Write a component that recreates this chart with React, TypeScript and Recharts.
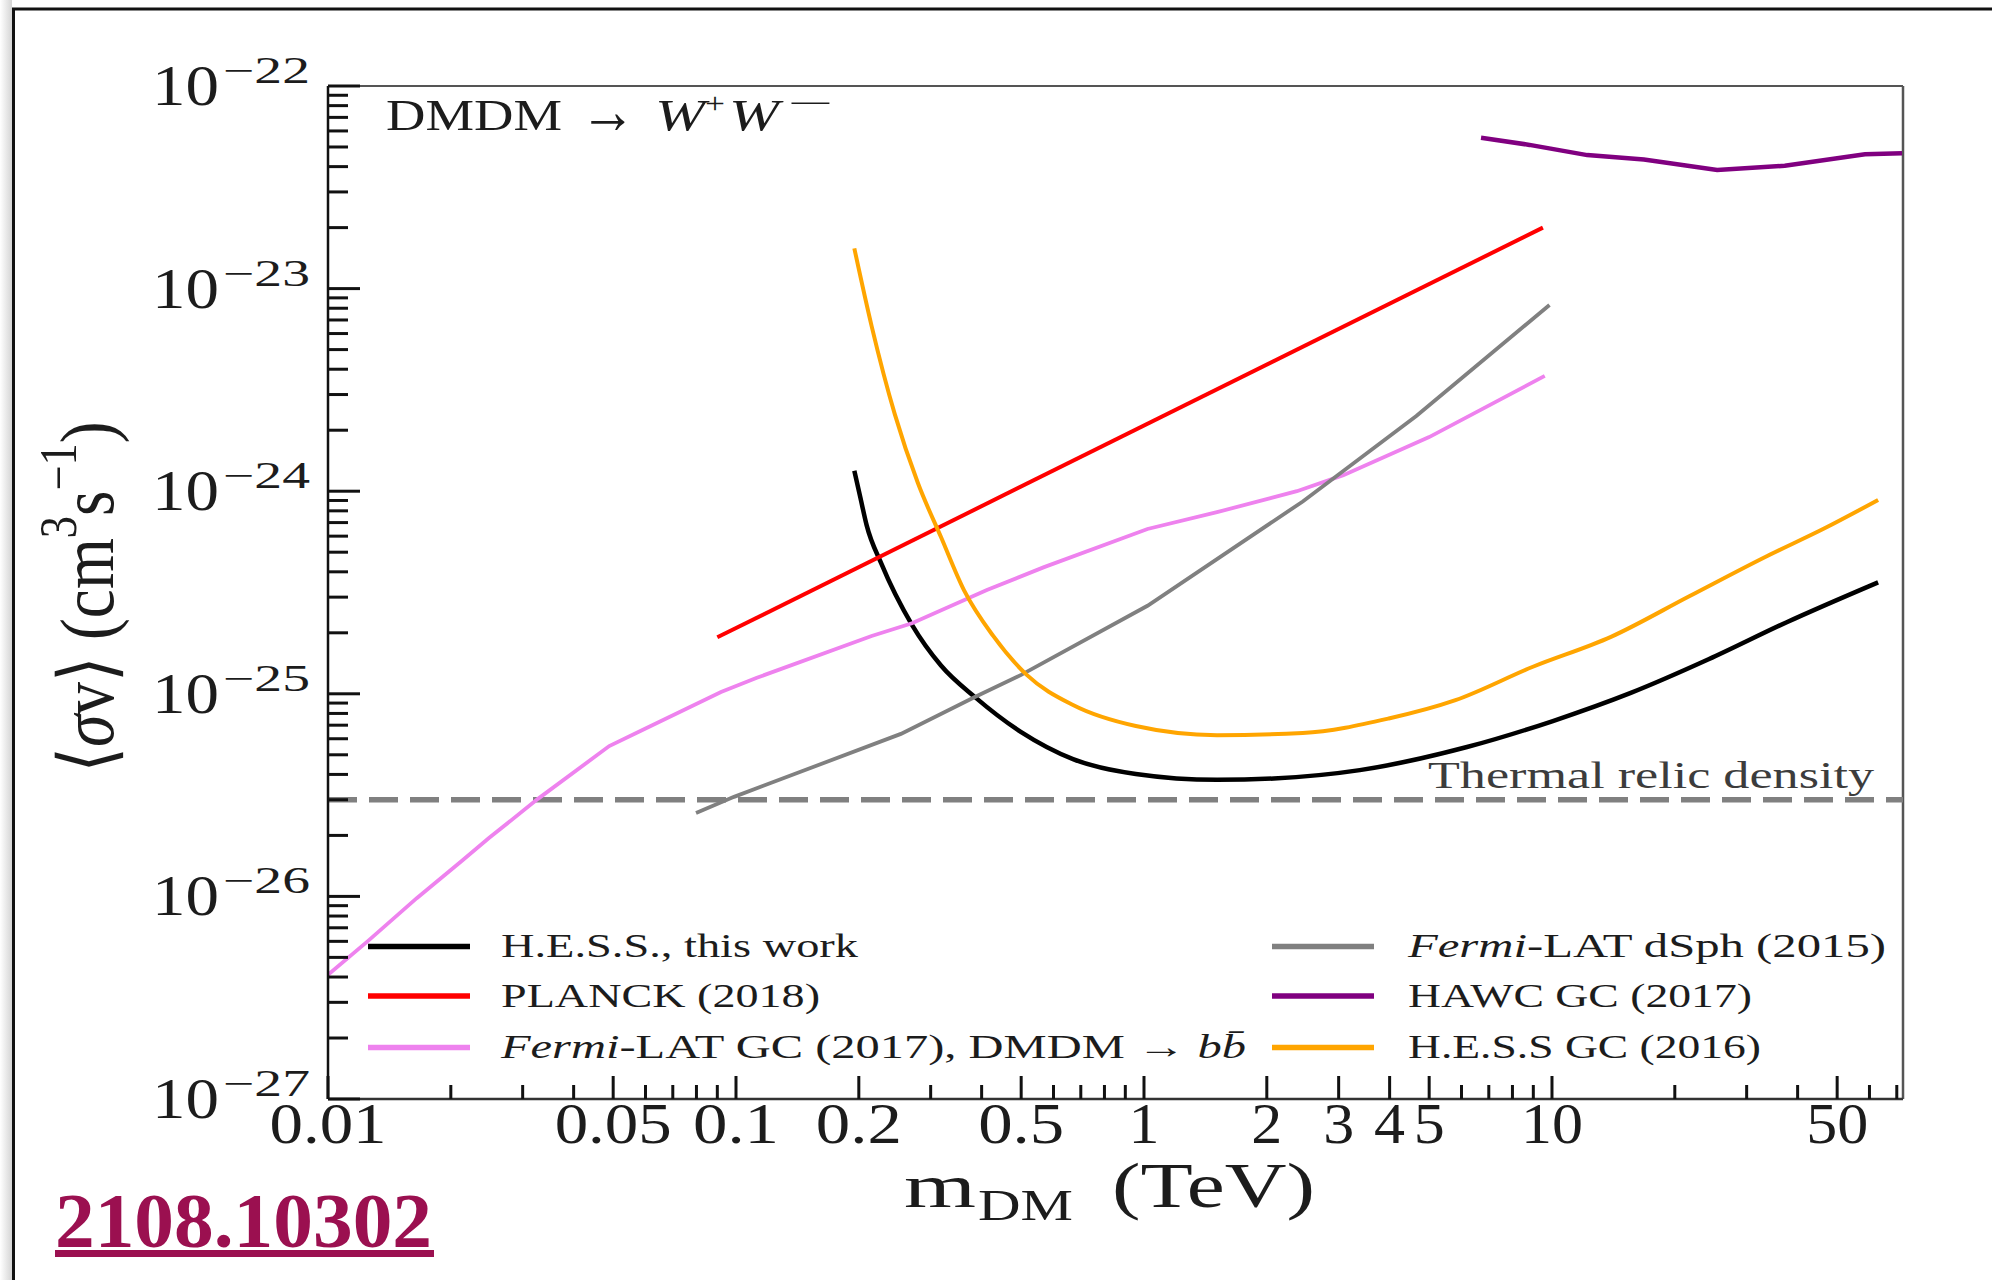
import React from 'react';
import { LineChart, Line, XAxis, YAxis, ReferenceLine, Legend } from 'recharts';

const FONT = '"Liberation Serif", "DejaVu Serif", serif';

// ---- data (m in TeV, <sigma v> in cm^3 s^-1) ----
const hessMass = [0.195, 0.202, 0.209, 0.227, 0.27, 0.318, 0.386, 0.5, 0.67, 0.955, 1.51, 2.08, 3.38, 6.19, 10.05, 15.6, 24.2, 37.5, 63.0];
const hessSigma = [1.26e-24, 9.2e-25, 6.8e-25, 4.4e-25, 2.19e-25, 1.38e-25, 9.6e-26, 6.47e-26, 4.76e-26, 4.02e-26, 3.76e-26, 3.82e-26, 4.2e-26, 5.46e-26, 7.34e-26, 1.01e-25, 1.48e-25, 2.25e-25, 3.55e-25];

const planckMass = [0.09, 9.5];
const planckSigma = [1.9e-25, 2.0e-23];

const fermiGcMass = [0.01, 0.0125, 0.0165, 0.0213, 0.0248, 0.0327, 0.0489, 0.0583, 0.0919, 0.1125, 0.215, 0.27, 0.412, 0.569, 1.02, 1.51, 2.37, 3.08, 5.0, 9.6];
const fermiGcSigma = [4.1e-27, 6.0e-27, 9.8e-27, 1.5e-26, 1.94e-26, 3.03e-26, 5.52e-26, 6.55e-26, 1.02e-25, 1.2e-25, 1.93e-25, 2.23e-25, 3.25e-25, 4.22e-25, 6.51e-25, 7.88e-25, 1.0e-24, 1.2e-24, 1.85e-24, 3.71e-24];

const fermiDsphMass = [0.0798, 0.0989, 0.2536, 0.385, 0.5, 1.02, 2.45, 4.65, 9.86];
const fermiDsphSigma = [2.58e-26, 3.1e-26, 6.34e-26, 9.64e-26, 1.24e-25, 2.72e-25, 8.9e-25, 2.35e-24, 8.3e-24];

const hawcMass = [6.7, 8.81, 12.2, 16.8, 25.4, 37.2, 58.5, 72.1];
const hawcSigma = [5.55e-23, 5.12e-23, 4.56e-23, 4.34e-23, 3.85e-23, 4.04e-23, 4.6e-23, 4.66e-23];

const hessGcMass = [0.195, 0.215, 0.245, 0.279, 0.318, 0.362, 0.427, 0.516, 0.67, 0.955, 1.51, 2.45, 3.98, 5.8, 8.98, 13.95, 21.7, 33.7, 46.7, 63.0];
const hessGcSigma = [1.58e-23, 6.53e-24, 2.4e-24, 1.1e-24, 5.94e-25, 3.25e-25, 1.93e-25, 1.24e-25, 8.8e-26, 6.93e-26, 6.25e-26, 6.4e-26, 7.55e-26, 9.3e-26, 1.36e-25, 1.91e-25, 3.03e-25, 4.79e-25, 6.58e-25, 9.05e-25];

const thermalRelic = 3e-26;

// ---- axis ticks ----
const xLabelTicks = [0.01, 0.05, 0.1, 0.2, 0.5, 1, 2, 3, 4, 5, 10, 50];
const xTickLabels = ['0.01', '0.05', '0.1', '0.2', '0.5', '1', '2', '3', '4', '5', '10', '50'];
const xMinorTicks = [0.02, 0.03, 0.04, 0.06, 0.07, 0.08, 0.09, 0.3, 0.4, 0.6, 0.7, 0.8, 0.9, 6, 7, 8, 9, 20, 30, 40, 60, 70];
const yExponents = [-27, -26, -25, -24, -23, -22];
const yMinorMultipliers = [2, 3, 4, 5, 6, 7, 8, 9];

const X_DOMAIN: [number, number] = [0.01, 72.5];
const Y_DOMAIN: [number, number] = [1e-27, 1e-22];

const xAllTicks = [...xLabelTicks, ...xMinorTicks].sort((a, b) => a - b);
const yAllTicks: number[] = [];
yExponents.forEach((e) => {
  yAllTicks.push(Number(`1e${e}`));
  if (e < -22) yMinorMultipliers.forEach((k) => yAllTicks.push(Number(`${k}e${e}`)));
});

const pts = (ms: number[], vs: number[]) => ms.map((m, i) => ({ m, v: vs[i] }));

// legend order (matplotlib ncol=2, column-major)
const seriesOrder = ['H.E.S.S., this work', 'PLANCK (2018)', 'Fermi-LAT GC (2017), DMDM → bb\u0304', 'Fermi-LAT dSph (2015)', 'HAWC GC (2017)', 'H.E.S.S GC (2016)'];
const legendWidths = [357, 319, 745, 478, 344, 353];

const TEXT = '#1c1c1c';
const PLOT_LEFT = 328;
const PLOT_BOTTOM = 1099;

const XTick = (props: any) => {
  const { x, payload } = props;
  const y = PLOT_BOTTOM;
  const v = payload.value;
  const idx = xLabelTicks.findIndex((t) => Math.abs(Math.log10(t) - Math.log10(v)) < 1e-6);
  const major = idx >= 0;
  const len = major ? 23 : 14;
  const label = major ? xTickLabels[idx] : '';
  const digits = label.replace('.', '').length;
  const dots = label.length - digits;
  return (
    <g>
      <line x1={x} x2={x} y1={y} y2={y - len} stroke="#111" strokeWidth={3} />
      {major && (
        <text x={x} y={y + 44} textAnchor="middle" fontFamily={FONT} fontSize={56} fill={TEXT}
          textLength={digits * 31 + dots * 24} lengthAdjust="spacingAndGlyphs">{label}</text>
      )}
    </g>
  );
};

const YTick = (props: any) => {
  const { y, payload } = props;
  const x = PLOT_LEFT;
  const lg = Math.log10(payload.value);
  const major = Math.abs(lg - Math.round(lg)) < 1e-6;
  const len = major ? 32 : 20;
  const exp = Math.round(lg);
  return (
    <g>
      <line x1={x} x2={x + len} y1={y} y2={y} stroke="#111" strokeWidth={3} />
      {major && (
        <g>
          <text x={x - 176} y={y + 19} fontFamily={FONT} fontSize={56} fill={TEXT} textLength={67} lengthAdjust="spacingAndGlyphs">10</text>
          <text x={x - 105} y={y - 3} fontFamily={FONT} fontSize={37} fill={TEXT} textLength={87} lengthAdjust="spacingAndGlyphs">{`\u2212${Math.abs(exp)}`}</text>
        </g>
      )}
    </g>
  );
};

const renderLegendLabel = (name: string) => {
  if (name.startsWith('Fermi-LAT GC')) {
    return [
      <tspan key="a" fontStyle="italic">Fermi</tspan>,
      <tspan key="b">-LAT GC (2017), DMDM → </tspan>,
      <tspan key="c" fontStyle="italic">b{'b\u0304'}</tspan>,
    ];
  }
  if (name.startsWith('Fermi')) {
    return [<tspan key="a" fontStyle="italic">Fermi</tspan>, <tspan key="b">{name.slice(5)}</tspan>];
  }
  return name;
};

const LegendContent = (props: any) => {
  const payload: any[] = props.payload || [];
  const items = seriesOrder.map((n) => payload.find((p) => p.value === n)).filter(Boolean);
  const rowsY = [946.5, 996, 1047.5];
  return (
    <svg width={1992} height={1280} style={{ position: 'absolute', left: 0, top: 0 }}>
      {items.map((it: any, i: number) => {
        const col = Math.floor(i / 3);
        const row = i % 3;
        const lx = col === 0 ? 368 : 1272;
        const tx = col === 0 ? 501 : 1408;
        const yy = rowsY[row];
        const idx = seriesOrder.indexOf(it.value);
        return (
          <g key={it.value}>
            <line x1={lx} x2={lx + 102} y1={yy} y2={yy} stroke={it.color} strokeWidth={5.5} />
            <text x={tx} y={yy + 10.5} fontFamily={FONT} fontSize={34} fill={TEXT}
              textLength={legendWidths[idx]} lengthAdjust="spacingAndGlyphs">{renderLegendLabel(it.value)}</text>
          </g>
        );
      })}
    </svg>
  );
};

const ThermalLabel = (props: any) => {
  const vb = props.viewBox || { x: 328, y: 799, width: 1575 };
  return (
    <text x={vb.x + vb.width - 475} y={vb.y - 12} fontFamily={FONT} fontSize={38} fill="#3c3c3c"
      textLength={446} lengthAdjust="spacingAndGlyphs">Thermal relic density</text>
  );
};

export default function App() {
  return (
    <div style={{ position: 'absolute', left: 0, top: 0, width: 1992, height: 1280, background: '#fff', overflow: 'hidden' }}>
      <LineChart width={1992} height={1280} margin={{ top: 86, right: 89, bottom: 171, left: 318 }}>
        <XAxis dataKey="m" type="number" scale="log" domain={X_DOMAIN} allowDataOverflow ticks={xAllTicks}
          tick={<XTick />} tickLine={false} tickSize={0} tickMargin={0} interval={0} height={10}
          axisLine={{ stroke: '#333', strokeWidth: 2.5 }} />
        <YAxis type="number" scale="log" domain={Y_DOMAIN} allowDataOverflow ticks={yAllTicks}
          tick={<YTick />} tickLine={false} tickSize={0} tickMargin={0} interval={0} width={10}
          axisLine={{ stroke: '#111', strokeWidth: 2.5 }} />
        <ReferenceLine y={1e-22} stroke="#555" strokeWidth={2} />
        <ReferenceLine x={X_DOMAIN[1]} stroke="#555" strokeWidth={2.5} />
        <ReferenceLine y={thermalRelic} stroke="#808080" strokeWidth={5.5} strokeDasharray="29 12" label={<ThermalLabel />} />
        <Line data={pts(hessMass, hessSigma)} dataKey="v" name={seriesOrder[0]} stroke="#000000" strokeWidth={4.5} dot={false} type="monotone" isAnimationActive={false} />
        <Line data={pts(planckMass, planckSigma)} dataKey="v" name={seriesOrder[1]} stroke="#ff0000" strokeWidth={4} dot={false} type="linear" isAnimationActive={false} />
        <Line data={pts(fermiGcMass, fermiGcSigma)} dataKey="v" name={seriesOrder[2]} stroke="#ee82ee" strokeWidth={3.8} dot={false} type="linear" isAnimationActive={false} />
        <Line data={pts(fermiDsphMass, fermiDsphSigma)} dataKey="v" name={seriesOrder[3]} stroke="#808080" strokeWidth={3.8} dot={false} type="linear" isAnimationActive={false} />
        <Line data={pts(hawcMass, hawcSigma)} dataKey="v" name={seriesOrder[4]} stroke="#800080" strokeWidth={4.5} dot={false} type="linear" isAnimationActive={false} />
        <Line data={pts(hessGcMass, hessGcSigma)} dataKey="v" name={seriesOrder[5]} stroke="#ffa500" strokeWidth={4} dot={false} type="monotone" isAnimationActive={false} />
        <Legend layout="horizontal" verticalAlign="middle" align="center" content={<LegendContent />}
          wrapperStyle={{ position: 'absolute', left: 0, top: 0, width: 1992, height: 1280, pointerEvents: 'none' }} />
      </LineChart>
      <svg width={1992} height={1280} style={{ position: 'absolute', left: 0, top: 0, pointerEvents: 'none' }}>
        <defs>
          <linearGradient id="shadeL" x1="0" x2="1" y1="0" y2="0">
            <stop offset="0" stopColor="#ffffff" />
            <stop offset="1" stopColor="#d4d4d4" />
          </linearGradient>
        </defs>
        <rect x={0} y={0} width={12} height={1280} fill="url(#shadeL)" />
        <line x1={13.5} x2={13.5} y1={8} y2={1280} stroke="#111" strokeWidth={3} />
        <line x1={12} x2={1992} y1={9} y2={9} stroke="#111" strokeWidth={3} />
        {/* panel title: DMDM -> W+W- */}
        <g fontFamily={FONT} fill={TEXT}>
          <text x={386} y={130} fontSize={44} textLength={176} lengthAdjust="spacingAndGlyphs">DMDM</text>
          <text x={580} y={133} fontSize={66} textLength={56} lengthAdjust="spacingAndGlyphs">→</text>
          <text x={655} y={130} fontSize={44} fontStyle="italic" textLength={50} lengthAdjust="spacingAndGlyphs">W</text>
          <text x={705} y={113} fontSize={30} textLength={20} lengthAdjust="spacingAndGlyphs">+</text>
          <text x={729} y={130} fontSize={44} fontStyle="italic" textLength={50} lengthAdjust="spacingAndGlyphs">W</text>
          <text x={788} y={113} fontSize={30} textLength={46} lengthAdjust="spacingAndGlyphs">{'\u2212'}</text>
        </g>
        {/* y axis title */}
        <g transform="translate(113,597) scale(1.24,1) rotate(-90)">
          <text x={0} y={0} textAnchor="middle" fontFamily={FONT} fontSize={62} fill={TEXT} textLength={351} lengthAdjust="spacingAndGlyphs">
            <tspan>{'\u27E8'}</tspan>
            <tspan fontStyle="italic">σ</tspan>
            <tspan>{'v\u27E9 (cm'}</tspan>
            <tspan fontSize={42} dy={-30}>3</tspan>
            <tspan fontSize={62} dy={30}>s</tspan>
            <tspan fontSize={42} dy={-30}>{'\u22121'}</tspan>
            <tspan fontSize={62} dy={30}>)</tspan>
          </text>
        </g>
        {/* x axis title */}
        <text x={904} y={1207} fontFamily={FONT} fontSize={62} fill={TEXT} textLength={72} lengthAdjust="spacingAndGlyphs">m</text>
        <text x={978} y={1220} fontFamily={FONT} fontSize={44} fill={TEXT} textLength={95} lengthAdjust="spacingAndGlyphs">DM</text>
        <text x={1112} y={1207} fontFamily={FONT} fontSize={64} fill={TEXT} textLength={203} lengthAdjust="spacingAndGlyphs">(TeV)</text>
        {/* arXiv reference */}
        <text x={55} y={1247} fontFamily={FONT} fontWeight="bold" fontSize={78} fill="#9b1050" textLength={377} lengthAdjust="spacingAndGlyphs">2108.10302</text>
        <rect x={55} y={1250} width={379} height={7} fill="#9b1050" />
      </svg>
    </div>
  );
}
